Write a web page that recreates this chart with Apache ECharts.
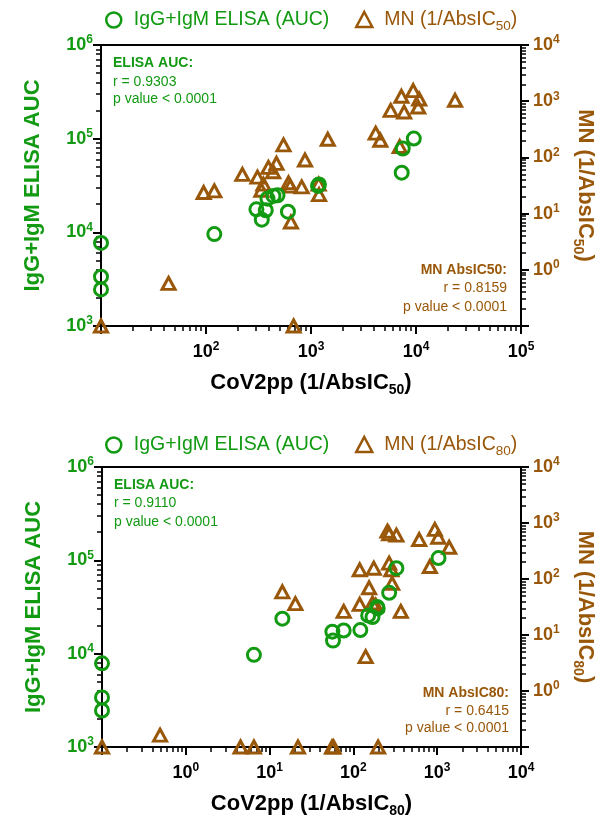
<!DOCTYPE html>
<html><head><meta charset="utf-8">
<script src="https://cdn.jsdelivr.net/npm/echarts@6/dist/echarts.min.js"></script>
<style>html,body{margin:0;padding:0;background:#fff}#c{width:597px;height:819px}</style>
</head><body><div id="c"></div>
<script>
// ---------------- DATA ----------------
// Top panel: x = CoV2pp (1/AbsIC50)
const elisaX50 = [10, 10, 10, 120, 302, 371, 340, 385, 439, 480, 603, 1167, 1190, 7310, 7480, 9530];
const elisaY50 = [7700, 3360, 2455, 9570, 17600, 17200, 13650, 22900, 24500, 24900, 16600, 31300, 32500, 43300, 78400, 100200];
const mnX50 = [10, 683, 44, 95, 120, 222, 309, 337, 352, 393, 436, 469, 547, 611, 634, 644, 815, 877, 1183, 1193, 1445, 4130, 4575, 7000, 5740, 7260, 7710, 9400, 10720, 10490, 23550];
const mnY50 = [0.1, 0.1, 0.573, 23.7, 25.4, 49.8, 44.6, 26.1, 33.4, 66.4, 55.6, 78.4, 167, 35.3, 30.8, 7.08, 29.9, 89.8, 33.4, 21.8, 210, 270, 202, 156, 687, 1222, 641, 1546, 1094, 787, 1038];
// Bottom panel: x = CoV2pp (1/AbsIC80)
const elisaX80 = [0.1, 0.1, 0.1, 6.5, 14.2, 56.1, 57.1, 76.6, 121, 150, 169, 192, 195, 267, 326, 1037];
const elisaY80 = [7880, 3400, 2460, 9710, 23700, 17200, 13800, 17700, 17900, 25700, 24700, 31600, 30500, 44900, 82400, 105800];
const mnX80 = [0.1, 0.493, 4.5, 6.5, 21.8, 55.6, 58, 197, 14.2, 20.3, 76.6, 119, 175, 119, 154, 140, 169, 185, 255, 267, 326, 267, 284, 290, 368, 610, 937, 1028, 1390, 817];
const mnY80 = [0.1, 0.163, 0.1, 0.1, 0.1, 0.1, 0.1, 0.1, 59.0, 36.3, 26.4, 146, 156, 35.3, 69.7, 4.11, 37.3, 33.9, 716, 641, 607, 192, 146, 83.6, 26.4, 507, 769, 558, 368, 167];
// Axis ranges (log10 exponents) and texts
const xRange50 = [1, 5], xRange80 = [-1, 4];
const leftRange = [3, 6], rightRange = [-1, 4];
const seriesNames = ['IgG+IgM ELISA (AUC)', 'MN (1/AbsIC50)', 'MN (1/AbsIC80)'];
const stats50 = { elisa: ['ELISA AUC:', 'r = 0.9303', 'p value < 0.0001'], mn: ['MN AbsIC50:', 'r = 0.8159', 'p value < 0.0001'] };
const stats80 = { elisa: ['ELISA AUC:', 'r = 0.9110', 'p value < 0.0001'], mn: ['MN AbsIC80:', 'r = 0.6415', 'p value < 0.0001'] };

// ---------------- STYLE ----------------
const GREEN = '#129a12', BROWN = '#995709';
const FONT = '"Liberation Sans", Arial, Helvetica, sans-serif';
const lg = v => Math.log10(v);

function minorVals(r) { const a = []; for (let d = r[0]; d < r[1]; d++) for (let k = 2; k <= 9; k++) a.push(d + Math.log10(k)); return a; }
function supRich(color) {
  return {
    b: { fontSize: 18, fontWeight: 'bold', color, fontFamily: FONT, lineHeight: 20, verticalAlign: 'middle' },
    s: { fontSize: 12, fontWeight: 'bold', color, fontFamily: FONT, lineHeight: 12, padding: [0, 0, 10, 0], verticalAlign: 'middle' }
  };
}
function subRich(color, size, subSize) {
  return {
    t: { fontSize: size, fontWeight: 'bold', color, fontFamily: FONT, lineHeight: size, verticalAlign: 'middle' },
    sub: { fontSize: subSize, fontWeight: 'bold', color, fontFamily: FONT, lineHeight: subSize, padding: [subSize, 0, 0, 0], verticalAlign: 'middle' }
  };
}
function mainAxis(o) {
  return {
    type: 'value', gridIndex: o.g, position: o.pos, min: o.r[0], max: o.r[1], interval: 1, offset: 0,
    axisLine: { show: true, onZero: false, lineStyle: { color: '#000', width: 2 } },
    axisTick: { show: true, inside: false, length: o.tl || 8, lineStyle: { color: '#000', width: 2 } },
    axisLabel: {
      show: true, margin: o.margin,
      formatter: v => (o.hideMin && v === o.r[0]) ? '' : '{b|10}{s|' + v + '}',
      rich: supRich(o.color)
    },
    splitLine: { show: false },
    name: o.name, nameLocation: 'middle', nameGap: o.nameGap, nameRotate: o.nameRotate,
    nameTextStyle: o.nameStyle
  };
}
function minorAxis(o) {
  return {
    type: 'value', gridIndex: o.g, position: o.pos, min: o.r[0], max: o.r[1], offset: 0,
    axisLine: { show: false, onZero: false },
    axisTick: { show: true, inside: false, length: o.tl || 5, lineStyle: { color: '#000', width: 1.5 }, customValues: minorVals(o.r) },
    axisLabel: { show: false },
    splitLine: { show: false }
  };
}
function xName(sub) { return '{t|CoV2pp (1/AbsIC}{sub|' + sub + '}{t|)}'; }
function yRightName(sub) { return '{t|MN (1/AbsIC}{sub|' + sub + '}{t|)}'; }

const xAxes = [], yAxes = [];
[[0, xRange50, '50'], [1, xRange80, '80']].forEach(([g, xr, sub]) => {
  xAxes.push(mainAxis({ g, pos: 'bottom', r: xr, color: '#000', hideMin: true, margin: 16,
    name: xName(sub), nameGap: 46, nameStyle: { rich: subRich('#000', 22, 14) } }));
  xAxes.push(minorAxis({ g, pos: 'bottom', r: xr }));
  yAxes.push(mainAxis({ g, pos: 'left', r: leftRange, color: GREEN, hideMin: false, margin: 8,
    name: 'IgG+IgM ELISA AUC', nameGap: 57, nameRotate: 90,
    nameStyle: { fontSize: 22, fontWeight: 'bold', color: GREEN, fontFamily: FONT, lineHeight: 22 } }));
  yAxes.push(minorAxis({ g, pos: 'left', r: leftRange }));
  yAxes.push(mainAxis({ g, pos: 'right', r: rightRange, color: BROWN, hideMin: true, margin: 12,
    name: yRightName(sub), nameGap: 51, nameRotate: -90, nameStyle: { rich: subRich(BROWN, 22, 14) } }));
  yAxes.push(minorAxis({ g, pos: 'right', r: rightRange }));
});

const circleStyle = { color: 'rgba(255,255,255,0)', borderColor: GREEN, borderWidth: 3, opacity: 1 };
const triStyle = { color: 'rgba(255,255,255,0)', borderColor: BROWN, borderWidth: 3, opacity: 1 };
function pts(xs, ys) { return xs.map((x, i) => [lg(x), lg(ys[i])]); }
const series = [
  { type: 'scatter', name: seriesNames[1], xAxisIndex: 0, yAxisIndex: 2, data: pts(mnX50, mnY50), symbol: 'triangle', symbolSize: [13, 12], itemStyle: triStyle, z: 2, clip: false },
  { type: 'scatter', name: seriesNames[0], xAxisIndex: 0, yAxisIndex: 0, data: pts(elisaX50, elisaY50), symbol: 'circle', symbolSize: 13, itemStyle: circleStyle, z: 3, clip: false },
  { type: 'scatter', name: seriesNames[2], xAxisIndex: 2, yAxisIndex: 6, data: pts(mnX80, mnY80), symbol: 'triangle', symbolSize: [13, 12], itemStyle: triStyle, z: 2, clip: false },
  { type: 'scatter', name: seriesNames[0], xAxisIndex: 2, yAxisIndex: 4, data: pts(elisaX80, elisaY80), symbol: 'circle', symbolSize: 13, itemStyle: circleStyle, z: 3, clip: false }
];

function legendFmt(name) { return name.indexOf('MN') === 0 ? '{p|MN (1/AbsIC}{sub|' + name.slice(11, 13) + '}{t|)}' : '{p|' + name + '}'; }
function legendRich(color) {
  return {
    p: { fontSize: 19.5, color, fontFamily: FONT, lineHeight: 20, verticalAlign: 'middle', padding: [0, 0, 0, 7] },
    t: { fontSize: 19.5, color, fontFamily: FONT, lineHeight: 20, verticalAlign: 'middle' },
    sub: { fontSize: 13.5, color, fontFamily: FONT, lineHeight: 13, padding: [13, 0, 0, 0], verticalAlign: 'middle' }
  };
}
function legend(name, color, left, top) {
  return { data: [name], left, top, padding: 0, itemWidth: 16, itemHeight: 15, selectedMode: false,
    formatter: legendFmt, textStyle: { color, rich: legendRich(color) }, itemStyle: { borderWidth: 2.5, opacity: 1 } };
}

function statTexts(s, lx, ly, rx, ry) {
  const out = [];
  s.elisa.forEach((t, i) => out.push({ type: 'text', x: lx, y: ly[i], style: { text: t, fill: GREEN, font: (i === 0 ? 'bold ' : '') + '14px ' + FONT, align: 'left', verticalAlign: 'middle' } }));
  s.mn.forEach((t, i) => out.push({ type: 'text', x: rx, y: ry[i], style: { text: t, fill: BROWN, font: (i === 0 ? 'bold ' : '') + '14px ' + FONT, align: 'right', verticalAlign: 'middle' } }));
  return out;
}

const option = {
  animation: false,
  backgroundColor: '#fff',
  grid: [
    { left: 101, right: 76, top: 45, height: 281, containLabel: false, outerBoundsMode: 'none', show: true, borderColor: '#000', borderWidth: 2, backgroundColor: 'rgba(0,0,0,0)' },
    { left: 102, right: 76, top: 467, height: 280, containLabel: false, outerBoundsMode: 'none', show: true, borderColor: '#000', borderWidth: 2, backgroundColor: 'rgba(0,0,0,0)' }
  ],
  legend: [
    legend(seriesNames[0], GREEN, 105, 10),
    legend(seriesNames[1], BROWN, 355, 6),
    legend(seriesNames[0], GREEN, 105, 435),
    legend(seriesNames[2], BROWN, 355, 431)
  ],
  xAxis: xAxes,
  yAxis: yAxes,
  series,
  graphic: [].concat(
    statTexts(stats50, 113, [63, 82, 99], 507, [270, 288, 307]),
    statTexts(stats80, 114, [485, 503, 522], 509, [693, 711, 728])
  )
};
const chart = echarts.init(document.getElementById('c'), null, { renderer: 'canvas' });
chart.setOption(option);
</script>
</body></html>
